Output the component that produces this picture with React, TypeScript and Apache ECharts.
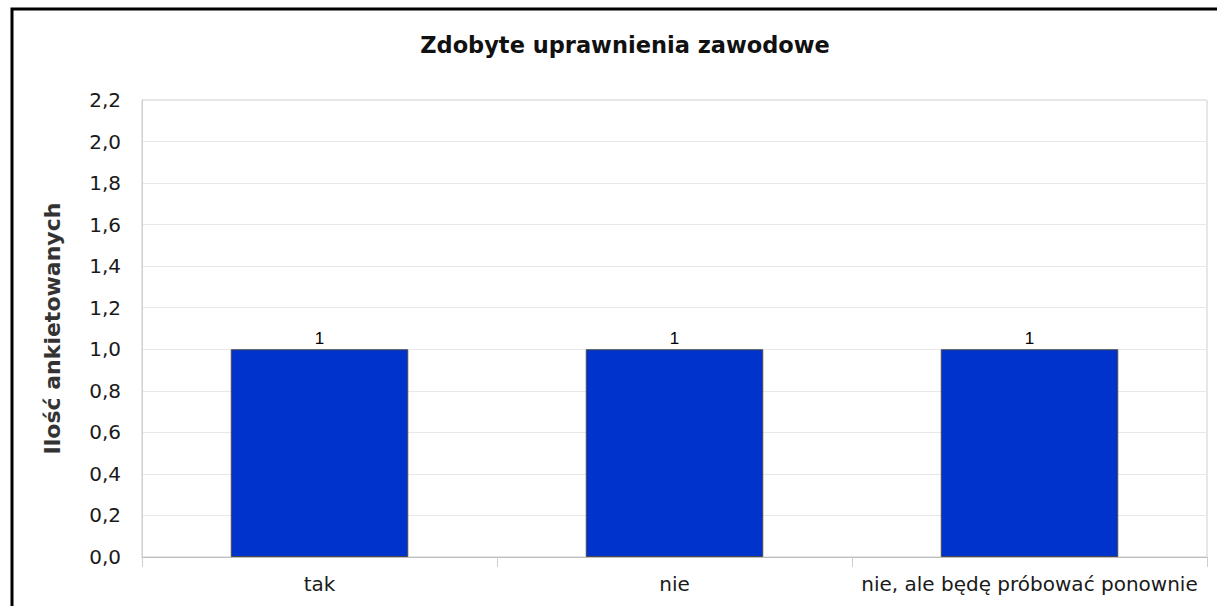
import React, { useEffect, useRef } from "react";
import * as echarts from "echarts";

const categories: string[] = ["tak", "nie", "nie, ale będę próbować ponownie"];
const values: number[] = [1, 1, 1];
const titleText = "Zdobyte uprawnienia zawodowe";
const yAxisName = "Ilość ankietowanych";
const yMin = 0;
const yMax = 2.2;
const yInterval = 0.2;

export default function App() {
  const ref = useRef<HTMLDivElement>(null);
  useEffect(() => {
    if (!ref.current) return;
    const chart = echarts.init(ref.current, undefined, { renderer: "svg" });
    chart.setOption({
      animation: false,
      backgroundColor: "#ffffff",
      title: {
        text: titleText,
        left: 620,
        top: 28,
        textAlign: "center",
        textStyle: {
          fontFamily: "DejaVu Sans",
          fontWeight: "bold",
          fontSize: 22.5,
          color: "#111",
        },
      },
      graphic: [
        {
          type: "rect",
          silent: true,
          shape: { x: 12, y: 9, width: 1400, height: 800 },
          style: { fill: "none", stroke: "#000", lineWidth: 3 },
        },
      ],
      grid: {
        left: 142,
        right: 10,
        top: 100,
        bottom: 49,
        show: true,
        borderColor: "#cfcfcf",
        borderWidth: 1,
        containLabel: false,
      },
      xAxis: {
        type: "category",
        data: categories,
        boundaryGap: true,
        axisLine: { show: true, lineStyle: { color: "#bdbdbd", width: 1 } },
        axisTick: { show: true, length: 10, alignWithLabel: false, lineStyle: { color: "#cfcfcf" } },
        axisLabel: {
          margin: 17,
          fontFamily: "DejaVu Sans",
          fontSize: 20,
          color: "#1a1a1a",
          interval: 0,
        },
        splitLine: { show: false },
      },
      yAxis: {
        type: "value",
        min: yMin,
        max: yMax,
        interval: yInterval,
        name: yAxisName,
        nameLocation: "middle",
        nameGap: 79,
        nameTextStyle: {
          fontFamily: "DejaVu Sans",
          fontWeight: "bold",
          fontSize: 22,
          color: "#333",
        },
        axisLine: { show: true, lineStyle: { color: "#cfcfcf", width: 1 } },
        axisTick: { show: false },
        axisLabel: {
          margin: 21,
          fontFamily: "DejaVu Sans",
          fontSize: 20,
          color: "#1a1a1a",
          formatter: (v: number) => v.toFixed(1).replace(".", ","),
        },
        splitLine: { show: true, lineStyle: { color: "#e8e8e8", width: 1 } },
      },
      series: [
        {
          type: "bar",
          data: values,
          barWidth: "50%",
          itemStyle: { color: "#0033cc", borderColor: "#4a4a4a", borderWidth: 1 },
          label: {
            show: true,
            position: "top",
            distance: 2,
            fontFamily: "Liberation Sans",
            fontSize: 17,
            color: "#000",
          },
        },
      ],
    });
    return () => chart.dispose();
  }, []);
  return (
    <div
      ref={ref}
      style={{ position: "fixed", left: 0, top: 0, width: 1217, height: 606 }}
    />
  );
}
